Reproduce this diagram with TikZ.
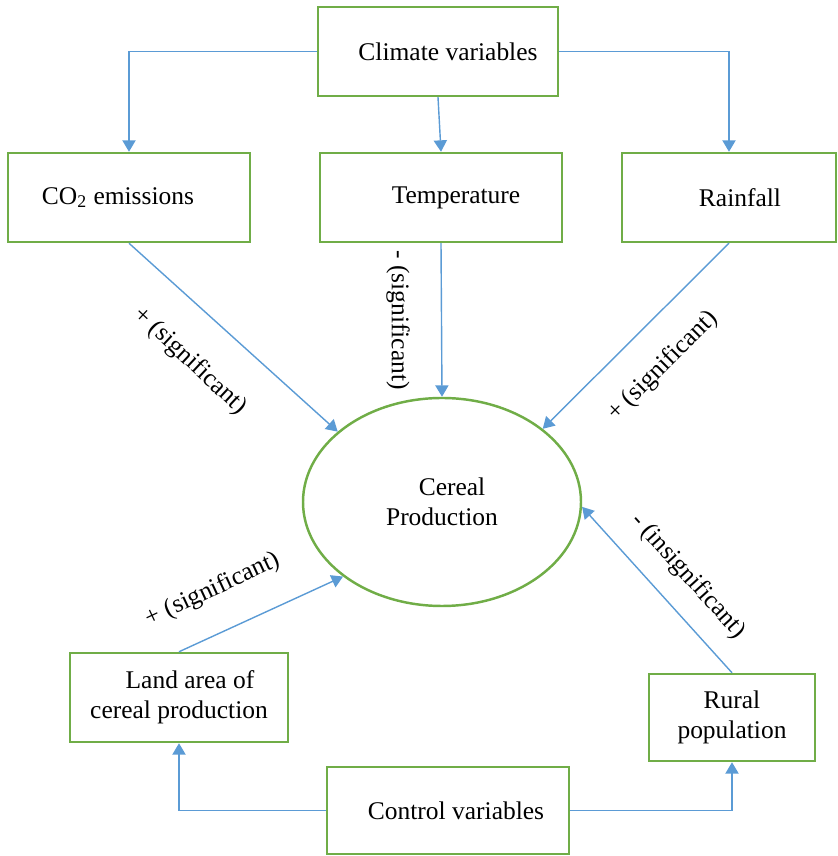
\documentclass[tikz,border=0pt]{standalone}
\usepackage{fontspec}
\setmainfont{Liberation Serif}
\usepackage{tikz}
\usetikzlibrary{shapes.geometric, arrows.meta, positioning, calc}

\definecolor{boxgreen}{RGB}{112,173,71}
\definecolor{lineblue}{RGB}{91,155,213}

\begin{document}
\begin{tikzpicture}[
  font=\fontsize{14.5}{17}\selectfont,
  varbox/.style={draw=boxgreen, line width=1.4pt, minimum height=1.78cm, inner sep=2pt, align=center},
  link/.style={draw=lineblue, line width=0.8pt, -{Triangle[length=6.5pt,width=7.5pt]}},
  sig/.style={inner sep=1pt}
]
  \useasboundingbox (0,0) rectangle (16.74,17.12);

  % Climate variables and its three boxes
  \node[varbox, minimum width=4.8cm] (clim) at (8.76,16.09) {\hspace*{0.4cm}Climate variables};
  \node[varbox, minimum width=4.84cm] (co2) at (2.58,13.17) {CO\textsubscript{2} emissions\hspace*{0.44cm}};
  \node[varbox, minimum width=4.84cm] (temp) at (8.82,13.17) {\hspace*{0.6cm}Temperature};
  \node[varbox, minimum width=4.28cm] (rain) at (14.58,13.17) {\hspace*{0.44cm}Rainfall};

  % Centre
  \node[draw=boxgreen, line width=1.4pt, ellipse, minimum width=5.56cm, minimum height=4.16cm,
        inner sep=0pt, align=center] (cereal) at (8.84,7.08) {\hspace*{0.4cm}Cereal\\Production};

  % Control variables and its two boxes
  \node[varbox, minimum width=4.36cm] (land) at (3.58,3.17) {\hspace*{0.44cm}Land area of\\cereal production};
  \node[varbox, minimum width=3.32cm, minimum height=1.74cm] (rural) at (14.64,2.77) {Rural\\population};
  \node[varbox, minimum width=4.84cm, minimum height=1.74cm] (ctrl) at (8.96,0.91) {\hspace*{0.32cm}Control variables};

  % Arrows
  \draw[link] (clim.west) -| (co2.north);
  \draw[link] (clim.south) -- (temp.north);
  \draw[link] (clim.east) -| (rain.north);
  \draw[link] (co2.south) -- (cereal.146);
  \draw[link] (temp.south) -- (cereal.north);
  \draw[link] (rain.south) -- (cereal.36);
  \draw[link] (land.north) -- (cereal.217);
  \draw[link] (rural.north) -- (cereal.-2);
  \draw[link] (ctrl.west) -| (land.south);
  \draw[link] (ctrl.east) -| (rural.south);

  % Labels
  \node[sig, rotate=-43] (co2lab) at (3.80,9.90) {+ (significant)};
  \node[sig, rotate=-90] (templab) at (7.96,10.72) {- (significant)};
  \node[sig, rotate=45] (rainlab) at (13.26,9.80) {+ (significant)};
  \node[sig, rotate=25] (landlab) at (4.26,5.32) {+ (significant)};
  \node[sig, rotate=-48] (rurallab) at (13.76,5.60) {- (insignificant)};
\end{tikzpicture}
\end{document}
